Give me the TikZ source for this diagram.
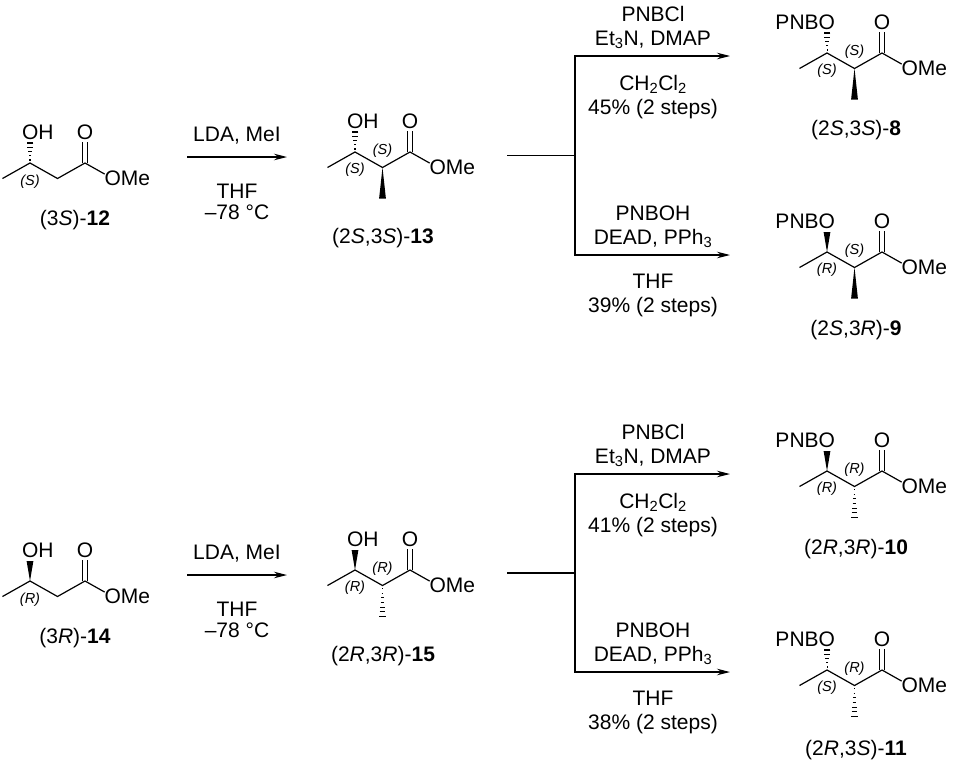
\documentclass[tikz,border=0pt]{standalone}
\usepackage{fontspec}
\setmainfont{Liberation Sans}
\usetikzlibrary{arrows.meta, calc}

\tikzset{
  bond/.style = {line width=1.2pt},
  hash/.style = {line width=1.1pt},
  atom/.style = {inner sep=0pt, font=\fontsize{21}{24}\selectfont},
  cfg/.style = {inner sep=0pt, font=\fontsize{14.5}{16}\selectfont},
  reagent/.style = {inner sep=0pt, align=center, font=\fontsize{21}{24}\selectfont},
  rxn/.style = {line width=1.2pt, -{Stealth[length=13pt, width=6.5pt]}}
}

% wedges, narrow end first
\newcommand{\wedgebond}[2]{\fill (#1) -- ($(#2)!3.4pt!90:(#1)$) -- ($(#2)!3.4pt!-90:(#1)$) -- cycle;}
\newcommand{\hashbond}[3][0.1,0.25,0.4,0.55,0.7,0.85,1]{%
  \foreach \t in {#1}{\draw[hash] ($(#2)!\t!(#3)!{3.4pt*\t}!90:(#2)$) -- ($(#2)!\t!(#3)!{3.4pt*\t}!-90:(#2)$);}}

% zigzag ester, C3 at (#2,#3)
\newcommand{\esterchain}[3]{%
  \coordinate (#1m) at ({#2-27.5},{#3+15.5});
  \coordinate (#1c3) at (#2,#3);
  \coordinate (#1c2) at ({#2+27.5},{#3+15.5});
  \coordinate (#1c1) at ({#2+55},#3);
  \coordinate (#1oe) at ({#2+82.5},{#3+15.5});
  \coordinate (#1oc) at ({#2+55},{#3-31});
  \coordinate (#1o3) at (#2,{#3-31});
  \coordinate (#1x3) at (#2,{#3-20});
  \coordinate (#1me) at ({#2+27.5},{#3+46.5});
  \draw[bond] (#1m) -- (#1c3) -- (#1c2) -- (#1c1);
  \draw[bond, shorten >=9pt] (#1c1) -- (#1oe);
  \draw[bond, shorten >=10pt] ([xshift=-2.2pt]#1c1) -- ([xshift=-2.2pt]#1oc);
  \draw[bond, shorten >=10pt] ([xshift=2.2pt]#1c1) -- ([xshift=2.2pt]#1oc);
  \node[atom, anchor=west] (#1ome) at ([xshift=-8.2pt]#1oe) {OMe};
  \node[atom] (#1o) at (#1oc) {O};
}

\begin{document}
\begin{tikzpicture}[x=1pt, y=-1pt]
\useasboundingbox (0,0) rectangle (955,771);

% (3S)-12
\esterchain{m12}{30}{163}
\hashbond[0.15,0.36,0.57,0.78,1]{m12c3}{m12x3}
\node[atom, anchor=west] (m12oh) at ([xshift=-8.2pt]m12o3) {OH};
\node[cfg] (m12s3) at ([yshift=-19pt]m12c3) {\textit{(S)}};
\node[atom] (m12lab) at (75,220) {(3\textit{S})-\textbf{12}};

% (2S,3S)-13
\esterchain{m13}{355}{152}
\hashbond[0.15,0.36,0.57,0.78,1]{m13c3}{m13x3}
\wedgebond{m13c2}{m13me}
\node[atom, anchor=west] (m13oh) at ([xshift=-8.2pt]m13o3) {OH};
\node[cfg] (m13s3) at ([yshift=-18pt]m13c3) {\textit{(S)}};
\node[cfg] (m13s2) at ([yshift=17pt]m13c2) {\textit{(S)}};
\node[atom] (m13lab) at (383,238) {(2\textit{S},3\textit{S})-\textbf{13}};

% (2S,3S)-8
\esterchain{m8}{827}{53}
\hashbond[0.15,0.36,0.57,0.78,1]{m8c3}{m8x3}
\wedgebond{m8c2}{m8me}
\node[atom, anchor=east] (m8opnb) at ([xshift=8.2pt]m8o3) {PNBO};
\node[cfg] (m8s3) at ([yshift=-18pt]m8c3) {\textit{(S)}};
\node[cfg] (m8s2) at ([yshift=17pt]m8c2) {\textit{(S)}};
\node[atom] (m8lab) at (856,130) {(2\textit{S},3\textit{S})-\textbf{8}};

% (2S,3R)-9
\esterchain{m9}{827}{252}
\wedgebond{m9c3}{m9x3}
\wedgebond{m9c2}{m9me}
\node[atom, anchor=east] (m9opnb) at ([xshift=8.2pt]m9o3) {PNBO};
\node[cfg] (m9s3) at ([yshift=-18pt]m9c3) {\textit{(R)}};
\node[cfg] (m9s2) at ([yshift=17pt]m9c2) {\textit{(S)}};
\node[atom] (m9lab) at (856,330) {(2\textit{S},3\textit{R})-\textbf{9}};

% (3R)-14
\esterchain{m14}{30}{581}
\wedgebond{m14c3}{m14x3}
\node[atom, anchor=west] (m14oh) at ([xshift=-8.2pt]m14o3) {OH};
\node[cfg] (m14s3) at ([yshift=-19pt]m14c3) {\textit{(R)}};
\node[atom] (m14lab) at (75,638) {(3\textit{R})-\textbf{14}};

% (2R,3R)-15
\esterchain{m15}{355}{570}
\wedgebond{m15c3}{m15x3}
\hashbond{m15c2}{m15me}
\node[atom, anchor=west] (m15oh) at ([xshift=-8.2pt]m15o3) {OH};
\node[cfg] (m15s3) at ([yshift=-18pt]m15c3) {\textit{(R)}};
\node[cfg] (m15s2) at ([yshift=17pt]m15c2) {\textit{(R)}};
\node[atom] (m15lab) at (383,656) {(2\textit{R},3\textit{R})-\textbf{15}};

% (2R,3R)-10
\esterchain{m10}{827}{471}
\wedgebond{m10c3}{m10x3}
\hashbond{m10c2}{m10me}
\node[atom, anchor=east] (m10opnb) at ([xshift=8.2pt]m10o3) {PNBO};
\node[cfg] (m10s3) at ([yshift=-18pt]m10c3) {\textit{(R)}};
\node[cfg] (m10s2) at ([yshift=17pt]m10c2) {\textit{(R)}};
\node[atom] (m10lab) at (856,549) {(2\textit{R},3\textit{R})-\textbf{10}};

% (2R,3S)-11
\esterchain{m11}{827}{670}
\hashbond[0.15,0.36,0.57,0.78,1]{m11c3}{m11x3}
\hashbond{m11c2}{m11me}
\node[atom, anchor=east] (m11opnb) at ([xshift=8.2pt]m11o3) {PNBO};
\node[cfg] (m11s3) at ([yshift=-18pt]m11c3) {\textit{(S)}};
\node[cfg] (m11s2) at ([yshift=17pt]m11c2) {\textit{(R)}};
\node[atom] (m11lab) at (856,750) {(2\textit{R},3\textit{S})-\textbf{11}};

% methylation arrows
\coordinate (a1s) at (187,157);
\coordinate (a1e) at (287,157);
\coordinate (a2s) at (187,575);
\coordinate (a2e) at (287,575);
\draw[rxn] (a1s) -- (a1e);
\draw[rxn] (a2s) -- (a2e);
\node[reagent, anchor=south] (lda1) at (237,144) {LDA, MeI};
\node[reagent, anchor=north, font=\fontsize{21}{21}\selectfont] (thf1) at (237,184) {THF\\–78 °C};
\node[reagent, anchor=south] (lda2) at (237,562) {LDA, MeI};
\node[reagent, anchor=north, font=\fontsize{21}{21}\selectfont] (thf2) at (237,602) {THF\\–78 °C};

% branches
\coordinate (b1) at (507,155.5);
\coordinate (b1m) at (575,155.5);
\coordinate (b1u) at (730,56);
\coordinate (b1d) at (730,255);
\draw[bond] (b1) -- (b1m);
\draw[rxn] (b1m) |- (b1u);
\draw[rxn] (b1m) |- (b1d);
\node[reagent, anchor=south] (pnbcl1) at (653,49) {PNBCl\\Et\textsubscript{3}N, DMAP};
\node[reagent, anchor=north] (dcm1) at (653,75) {CH\textsubscript{2}Cl\textsubscript{2}\\45\% (2 steps)};
\node[reagent, anchor=south] (pnboh1) at (653,248) {PNBOH\\DEAD, PPh\textsubscript{3}};
\node[reagent, anchor=north] (thf3) at (653,274) {THF\\39\% (2 steps)};

\coordinate (b2) at (507,573);
\coordinate (b2m) at (575,573);
\coordinate (b2u) at (730,474);
\coordinate (b2d) at (730,672);
\draw[bond] (b2) -- (b2m);
\draw[rxn] (b2m) |- (b2u);
\draw[rxn] (b2m) |- (b2d);
\node[reagent, anchor=south] (pnbcl2) at (653,467) {PNBCl\\Et\textsubscript{3}N, DMAP};
\node[reagent, anchor=north] (dcm2) at (653,493) {CH\textsubscript{2}Cl\textsubscript{2}\\41\% (2 steps)};
\node[reagent, anchor=south] (pnboh2) at (653,665) {PNBOH\\DEAD, PPh\textsubscript{3}};
\node[reagent, anchor=north] (thf4) at (653,691) {THF\\38\% (2 steps)};
\end{tikzpicture}
\end{document}
